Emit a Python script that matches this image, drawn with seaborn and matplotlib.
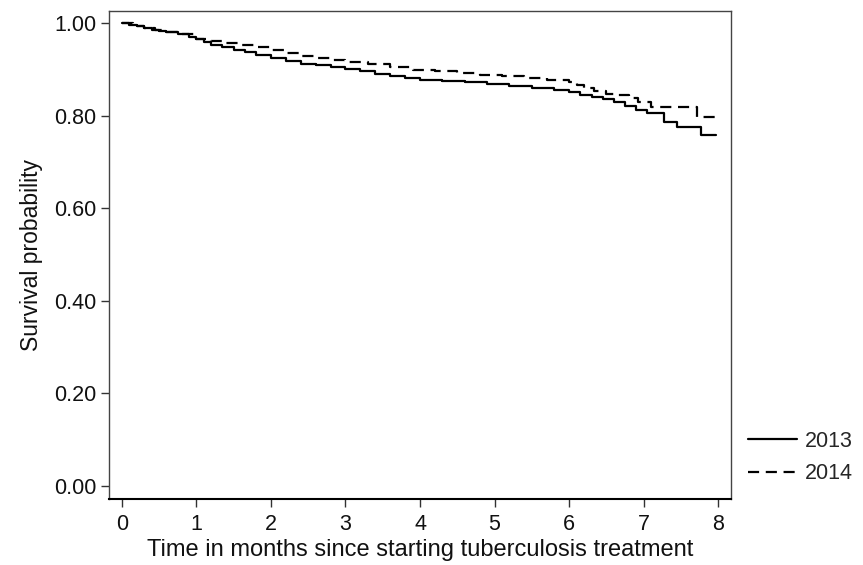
import pandas as pd
import seaborn as sns
import matplotlib.pyplot as plt

# Kaplan-Meier style survival estimates
t_2013 = [0, 0.1, 0.2, 0.3, 0.4, 0.5, 0.6, 0.75, 0.9, 1.0, 1.1, 1.2, 1.35, 1.5,
          1.65, 1.8, 2.0, 2.2, 2.4, 2.6, 2.8, 3.0, 3.2, 3.4, 3.6, 3.8, 4.0, 4.3,
          4.6, 4.9, 5.2, 5.5, 5.8, 6.0, 6.15, 6.3, 6.45, 6.6, 6.75, 6.9, 7.05,
          7.27, 7.45, 7.77, 7.97]
s_2013 = [1.0, 0.996, 0.993, 0.99, 0.986, 0.983, 0.98, 0.976, 0.97, 0.965, 0.96,
          0.954, 0.948, 0.942, 0.937, 0.932, 0.925, 0.918, 0.912, 0.909, 0.905,
          0.901, 0.896, 0.891, 0.886, 0.881, 0.877, 0.875, 0.872, 0.868, 0.864,
          0.859, 0.855, 0.851, 0.846, 0.841, 0.836, 0.83, 0.822, 0.813, 0.805,
          0.787, 0.776, 0.758, 0.758]

t_2014 = [0, 0.15, 0.3, 0.45, 0.6, 0.8, 1.0, 1.2, 1.4, 1.6, 1.8, 2.0, 2.2, 2.4,
          2.6, 2.8, 3.0, 3.3, 3.6, 3.9, 4.2, 4.5, 4.8, 5.1, 5.4, 5.7, 6.0, 6.1,
          6.2, 6.33, 6.5, 6.65, 6.8, 6.92, 7.1, 7.72, 7.99]
s_2014 = [1.0, 0.995, 0.99, 0.985, 0.98, 0.976, 0.967, 0.962, 0.958, 0.953, 0.948,
          0.942, 0.936, 0.929, 0.924, 0.92, 0.916, 0.911, 0.906, 0.9, 0.896, 0.892,
          0.889, 0.886, 0.882, 0.878, 0.874, 0.866, 0.86, 0.853, 0.848, 0.844,
          0.838, 0.83, 0.82, 0.797, 0.797]

data = pd.DataFrame({
    "time": t_2013 + t_2014,
    "surv": s_2013 + s_2014,
    "year": ["2013"] * len(t_2013) + ["2014"] * len(t_2014),
})

sns.set_theme(style="ticks")
plt.rcParams['font.family'] = ['Liberation Sans', 'DejaVu Sans']

fig = plt.figure(figsize=(8.63, 5.65), dpi=100)
ax = fig.add_axes([0.1267, 0.1168, 0.847 - 0.1267, 0.981 - 0.1168])

sns.lineplot(
    data=data, x="time", y="surv", hue="year", style="year",
    palette={"2013": "black", "2014": "black"},
    dashes={"2013": "", "2014": (5, 3)},
    estimator=None, sort=True, drawstyle="steps-post",
    linewidth=1.6, ax=ax, legend=True,
)

ax.set_xlim(-0.166, 8.17)
ax.set_ylim(-0.028, 1.027)
ax.set_xticks(range(9))
ax.set_yticks([0, 0.2, 0.4, 0.6, 0.8, 1.0])
ax.set_yticklabels([f"{v:.2f}" for v in [0, 0.2, 0.4, 0.6, 0.8, 1.0]])
ax.tick_params(axis="both", labelsize=15.5, length=6, width=1, color="#333333",
               labelcolor="#111111")
ax.tick_params(axis="x", pad=5)
ax.set_xlabel("Time in months since starting tuberculosis treatment",
              fontsize=17, labelpad=3, color="#111111")
ax.set_ylabel("Survival probability", fontsize=16.5, labelpad=8, color="#111111")
for side in ["left", "right", "top"]:
    ax.spines[side].set_visible(True)
    ax.spines[side].set_color("#444444")
    ax.spines[side].set_linewidth(1)
ax.spines["bottom"].set_color("black")
ax.spines["bottom"].set_linewidth(1.5)

handles, labels = ax.get_legend_handles_labels()
ax.legend(handles, labels, loc="lower left", bbox_to_anchor=(0.8667, 0.143),
          bbox_transform=fig.transFigure, frameon=False, fontsize=15.5,
          borderpad=0, borderaxespad=0,
          handlelength=2.28, handletextpad=0.37, labelspacing=0.53)

fig.savefig("out.png", dpi=100)
